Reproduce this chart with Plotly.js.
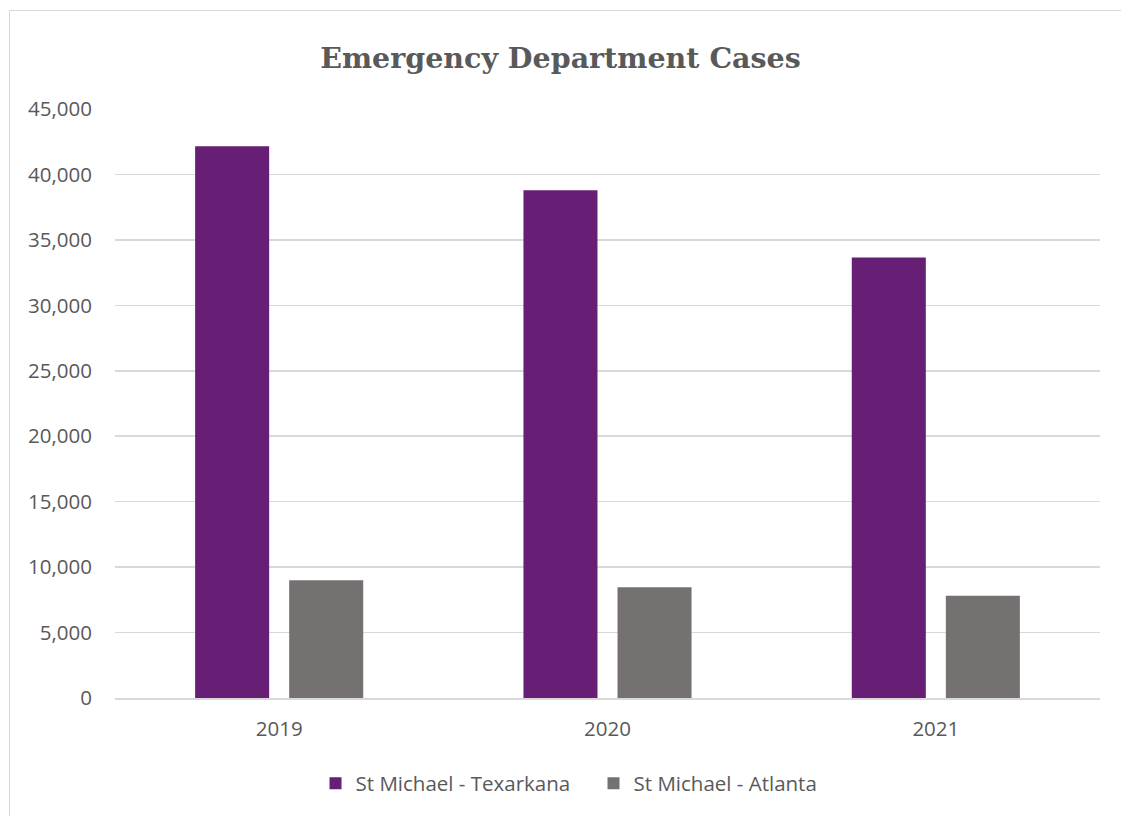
<!DOCTYPE html>
<html>
<head>
<meta charset="utf-8">
<script src="https://cdn.plot.ly/plotly-3.0.1.min.js"></script>
<style>
html,body{margin:0;padding:0;background:#fff;}
#wrap{position:relative;width:1121px;height:816px;}
#chart{position:absolute;left:0;top:0;width:1121px;height:816px;}
#frame{position:absolute;left:9px;top:10px;width:1120px;height:820px;border:1px solid #d9d9d9;pointer-events:none;}
</style>
</head>
<body>
<div id="wrap">
<div id="chart"></div>
<div id="frame"></div>
</div>
<script>
var years = ['2019', '2020', '2021'];
var texarkana = [42150, 38800, 33650];
var atlanta = [8990, 8470, 7810];
var seriesNames = ['St Michael - Texarkana', 'St Michael - Atlanta'];
var tickVals = [0, 5000, 10000, 15000, 20000, 25000, 30000, 35000, 40000, 45000];

var traces = [
  {type: 'bar', name: seriesNames[0], x: years, y: texarkana, marker: {color: '#671e75'}, hoverinfo: 'y'},
  {type: 'bar', name: seriesNames[1], x: years, y: atlanta, marker: {color: '#767171'}, hoverinfo: 'y'}
];

var layout = {
  width: 1121, height: 816,
  paper_bgcolor: 'rgba(0,0,0,0)', plot_bgcolor: 'rgba(0,0,0,0)',
  margin: {l: 115, r: 21, t: 109, b: 118},
  barmode: 'group', bargap: 0.427, bargroupgap: 0.213,
  title: {text: 'Emergency Department Cases', x: 0.5, xanchor: 'center', y: 0.929, yanchor: 'middle',
          font: {family: 'DejaVu Serif', size: 28.5, color: '#595959', weight: 'bold'}},
  font: {family: 'Open Sans, Noto Sans, sans-serif', color: '#595959'},
  xaxis: {type: 'category', showline: true, linecolor: '#d9d9d9', linewidth: 1.5,
          tickfont: {size: 20.5, color: '#595959'}, ticks: '', showgrid: false, ticklabelstandoff: 12},
  yaxis: {range: [0, 45000], tickvals: tickVals, tickformat: ',d', showgrid: true, gridcolor: '#d9d9d9', gridwidth: 1.5,
          zeroline: false, showline: false, ticks: '', ticklabelstandoff: 22,
          tickfont: {size: 20.5, color: '#595959'}},
  legend: {orientation: 'h', x: 0.4858, xanchor: 'center', y: -0.145, yanchor: 'middle',
           font: {size: 20.5, color: '#595959'}, itemwidth: 30, entrywidth: 233, traceorder: 'normal'},
  showlegend: true
};

Plotly.newPlot('chart', traces, layout, {displayModeBar: false, staticPlot: true});
</script>
</body>
</html>
